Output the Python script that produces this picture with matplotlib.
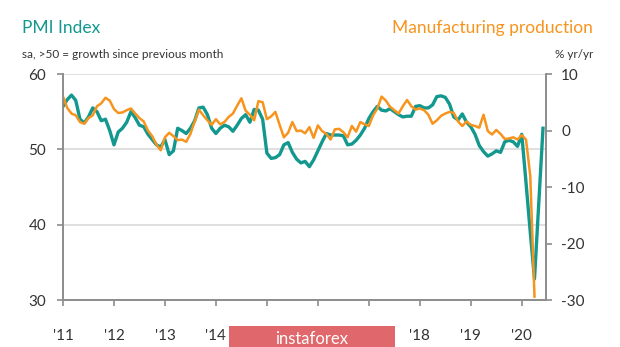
import matplotlib
matplotlib.use("Agg")
import matplotlib.pyplot as plt
from matplotlib.patches import Rectangle

TEAL, ORANGE, AXGREY, GRID, INK = "#12988f", "#f7941d", "#8c8c8c", "#d9d9d9", "#333333"
plt.rcParams["font.family"] = ["Lato", "DejaVu Sans"]
plt.rcParams["axes.unicode_minus"] = False

# monthly, Jan 2011 onwards
pmi = [55.7, 56.6, 57.2, 56.5, 54.0, 53.5, 54.3, 55.5, 55.0, 53.8, 54.0, 52.5,
       50.6, 52.3, 52.8, 53.6, 55.0, 54.2, 53.2, 53.0, 52.0, 51.3, 50.6, 50.3,
       51.3, 49.3, 49.8, 52.8, 52.5, 52.1, 52.8, 53.8, 55.5, 55.6, 54.6, 52.8,
       52.1, 52.8, 53.2, 53.0, 52.4, 53.2, 54.1, 54.6, 53.6, 55.3, 55.2, 54.0,
       49.5, 48.8, 48.9, 49.3, 50.6, 50.9, 49.6, 48.7, 48.2, 48.4, 47.7, 48.6,
       49.8, 51.0, 52.1, 51.9, 51.9, 51.9, 51.8, 50.6, 50.7, 51.2, 51.9, 52.8,
       54.1, 55.0, 55.7, 55.2, 55.1, 55.4, 55.0, 54.6, 54.3, 54.4, 54.4, 55.7,
       55.8, 55.5, 55.5, 55.9, 57.0, 57.1, 56.9, 56.0, 54.3, 53.9, 54.7, 53.6,
       53.0, 52.0, 50.5, 49.7, 49.1, 49.4, 49.8, 49.6, 51.0, 51.2, 51.0, 50.4,
       52.0, 45.6, 39.0, 32.8, 42.8, 52.8]
production = [6.0, 4.0, 3.0, 2.7, 1.5, 1.2, 2.2, 2.7, 4.3, 4.8, 5.8, 5.3,
              3.8, 3.1, 3.2, 3.6, 3.9, 3.0, 2.2, 1.6, 0.0, -1.0, -2.5, -3.5,
              -1.2, -0.4, -1.0, -1.7, -1.6, -2.0, -0.6, 1.6, 3.7, 2.7, 1.8, 1.0,
              2.0, 1.1, 1.5, 2.4, 3.0, 4.4, 5.7, 3.5, 2.8, 1.8, 5.2, 5.0,
              2.0, 2.5, 3.3, 1.0, -1.2, -0.4, 1.5, -0.1, 0.0, -0.5, 0.6, -1.3,
              0.9, -0.1, -0.6, -1.6, 0.2, 0.3, -0.3, -1.2, 0.8, -0.2, 1.5, 1.1,
              0.8, 2.7, 3.9, 6.0, 5.3, 4.2, 3.6, 3.0, 4.3, 5.4, 4.3, 3.7,
              3.9, 3.6, 2.8, 1.2, 1.8, 2.6, 3.0, 3.3, 3.1, 1.6, 0.8, 1.6,
              1.0, 0.8, 0.5, 2.8, -0.1, -0.7, 0.1, -0.6, -1.5, -1.4, -1.2, -1.6,
              -0.8, -1.6, -8.0, -29.4]
year_labels = ["'11", "'12", "'13", "'14", "'15", "'16", "'17", "'18", "'19", "'20"]
left_ticks = [30, 40, 50, 60]
right_ticks = [-30, -20, -10, 0, 10]

fig = plt.figure(figsize=(6.2, 3.47), dpi=100)
ax = fig.add_axes([0.1016, 0.1354, 0.7790, 0.6513])
ax2 = ax.twinx()

ax.plot(range(len(pmi)), pmi, color=TEAL, lw=2.4, solid_joinstyle="round", zorder=3)
ax2.plot(range(len(production)), production, color=ORANGE, lw=1.8,
         solid_joinstyle="round", zorder=2)

ax.set_xlim(0, 113.7)
ax.set_ylim(30, 60)
ax2.set_ylim(-30, 10)
ax.set_xticks(range(0, 12 * len(year_labels), 12))
ax.set_xticklabels(year_labels)
ax.set_yticks(left_ticks)
ax2.set_yticks(right_ticks)
for v in left_ticks[1:]:
    ax.axhline(v, color=GRID, lw=1.2, zorder=0)

for a in (ax, ax2):
    a.spines["top"].set_visible(False)
    for s in ("left", "right", "bottom"):
        a.spines[s].set_color(AXGREY)
        a.spines[s].set_linewidth(1.2)
    a.tick_params(colors=AXGREY, labelcolor=INK, labelsize=11, length=4, width=1.2)
ax.tick_params(axis="x", pad=17)
ax.tick_params(axis="y", pad=8)
ax2.tick_params(axis="y", pad=7)

fig.text(22 / 620, 1 - 28 / 347, "PMI Index", color=TEAL, fontsize=12.5, va="center")
fig.text(22 / 620, 1 - 54 / 347, "sa, >50 = growth since previous month",
         color=INK, fontsize=8.5, va="center")
fig.text(593 / 620, 1 - 28 / 347, "Manufacturing production", color=ORANGE,
         fontsize=12.5, va="center", ha="right")
fig.text(593 / 620, 1 - 54 / 347, "% yr/yr", color=INK, fontsize=8.5,
         va="center", ha="right")

# site badge along the bottom edge; the '15-'17 labels sit underneath it
for lbl in ax.get_xticklabels()[4:7]:
    lbl.set_visible(False)
fig.patches.append(Rectangle((229 / 620, 0), 166 / 620, 21 / 347,
                             transform=fig.transFigure, fc="#e0676b", ec="none", zorder=5))
fig.text(312 / 620, 1 - 339.5 / 347, "instaforex", color="white", fontsize=12,
         ha="center", va="center", zorder=6)

fig.savefig("out.png", dpi=100)
